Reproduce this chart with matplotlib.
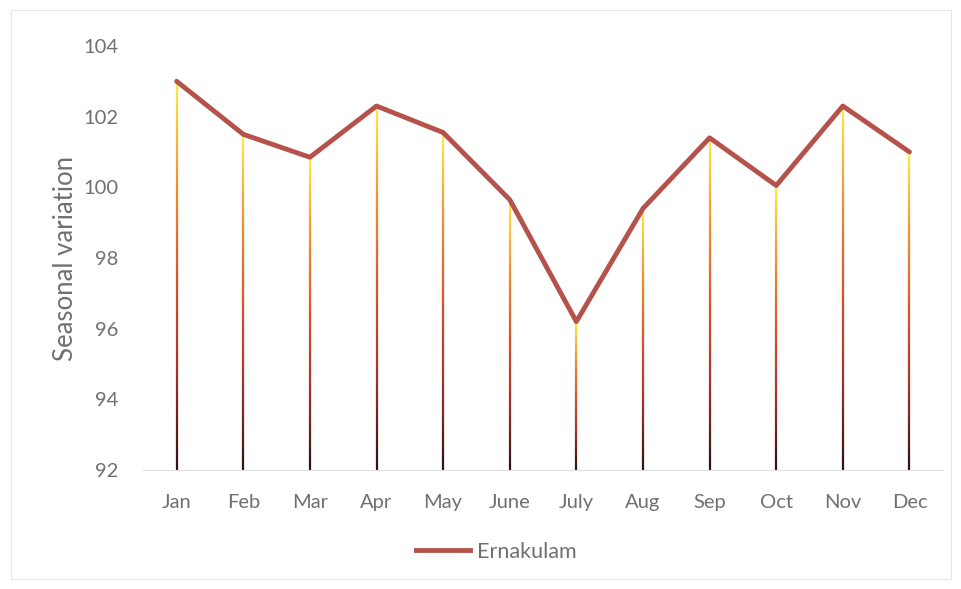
import numpy as np
import matplotlib.pyplot as plt
from matplotlib.collections import LineCollection
from matplotlib.colors import LinearSegmentedColormap
from matplotlib.lines import Line2D

plt.rcParams['font.family'] = ['Lato', 'DejaVu Sans']

months = ['Jan', 'Feb', 'Mar', 'Apr', 'May', 'June', 'July', 'Aug', 'Sep', 'Oct', 'Nov', 'Dec']
ernakulam = [103.0, 101.5, 100.85, 102.3, 101.55, 99.65, 96.2, 99.4, 101.4, 100.05, 102.3, 101.0]
y_ticks = [92, 94, 96, 98, 100, 102, 104]

fig = plt.figure(figsize=(9.62, 5.89), dpi=100)
ax = fig.add_axes([0.149, 0.202, 0.831, 0.72])

x = np.arange(len(months))
ymin, ymax = 92, 104

# gradient drop lines: yellow at top -> red -> dark at bottom
cmap = LinearSegmentedColormap.from_list('drop', ['#2e1414', '#a8302a', '#e0502a', '#f5902e', '#ffe848'])
for xi, yi in zip(x, ernakulam):
    ys = np.linspace(ymin, yi, 60)
    pts = np.array([np.full_like(ys, xi), ys]).T.reshape(-1, 1, 2)
    segs = np.concatenate([pts[:-1], pts[1:]], axis=1)
    t = np.linspace(0, 1, len(segs))
    lc = LineCollection(segs, colors=cmap(t), linewidths=1.6, zorder=2)
    ax.add_collection(lc)

ax.plot(x, ernakulam, color='#b5524c', linewidth=3.5, solid_capstyle='round', zorder=3)

ax.set_xlim(-0.5, len(months) - 0.5)
ax.set_ylim(ymin, ymax)
ax.set_yticks(y_ticks)
ax.set_xticks(x)
ax.set_xticklabels(months)
ax.tick_params(length=0, labelsize=14.5, colors='#707070')
ax.tick_params(axis='x', pad=17)
ax.tick_params(axis='y', pad=18)
for s in ['top', 'right', 'left']:
    ax.spines[s].set_visible(False)
ax.spines['bottom'].set_color('#e0e0e0')
ax.set_ylabel('Seasonal variation', fontsize=18.5, color='#707070', labelpad=4)

handle = Line2D([0], [0], color='#b5524c', linewidth=3.5)
fig.legend([handle], ['Ernakulam'], loc='center', bbox_to_anchor=(0.516, 0.063),
           frameon=False, fontsize=15.5, labelcolor='#707070', handlelength=2.5, handletextpad=0.35)

# faint border around the picture
fig.patches.append(plt.Rectangle((0.011, 0.017), 0.978, 0.966, transform=fig.transFigure,
                                 fill=False, edgecolor='#e6e6e6', linewidth=0.8))

fig.savefig('out.png', dpi=100)
